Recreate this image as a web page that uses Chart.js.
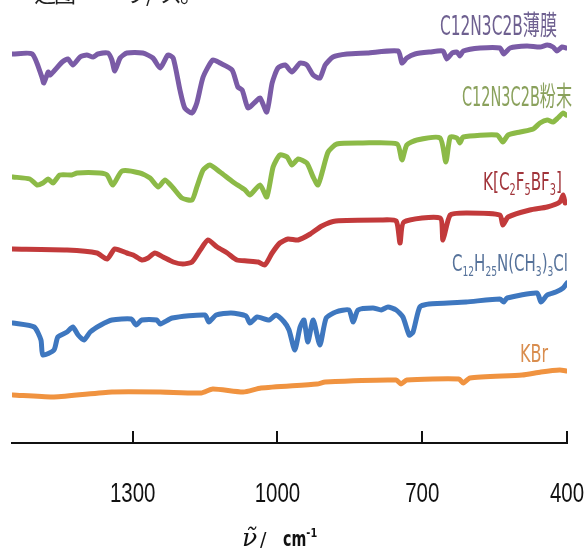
<!DOCTYPE html>
<html>
<head>
<meta charset="utf-8">
<script src="https://cdn.jsdelivr.net/npm/chart.js@4.4.1/dist/chart.umd.min.js"></script>
<style>
  html, body { margin: 0; padding: 0; background: #fff; }
  #wrap { width: 584px; height: 554px; }
</style>
</head>
<body>
<div id="wrap"><canvas id="irChart" width="584" height="554"></canvas></div>
<script>
'use strict';

// wavenumber (cm-1) / offset transmittance (a.u.)
const filmWn = [1548, 1508, 1488, 1484, 1475, 1471, 1461, 1446, 1434, 1424, 1409, 1395, 1382, 1372, 1351, 1343, 1337, 1326, 1312, 1279, 1258, 1243, 1227, 1216, 1202, 1192, 1177, 1167, 1154, 1134, 1119, 1094, 1082, 1073, 1061, 1046, 1036, 1022, 1011, 999, 984, 970, 953, 939, 926, 912, 901, 885, 856, 814, 750, 742, 732, 715, 684, 657, 649, 638, 628, 622, 615, 580, 539, 531, 518, 483, 456, 441, 429, 421, 410, 402];
const filmT  = [389, 389, 366, 360, 371, 368, 373, 381, 384, 378, 386, 388, 386, 389, 390, 383, 372, 385, 390, 390, 385, 375, 388, 385, 353, 335, 330, 340, 366, 383, 380, 373, 356, 353, 335, 341, 345, 331, 360, 375, 378, 371, 380, 378, 368, 365, 378, 386, 389, 390, 392, 380, 385, 389, 391, 392, 384, 390, 391, 387, 392, 395, 395, 389, 395, 397, 396, 398, 396, 392, 396, 395];

const powderWn = [1548, 1513, 1498, 1486, 1475, 1465, 1451, 1426, 1415, 1368, 1353, 1341, 1322, 1285, 1264, 1247, 1233, 1216, 1198, 1177, 1167, 1154, 1140, 1119, 1092, 1067, 1057, 1036, 1022, 1009, 995, 980, 970, 957, 939, 926, 916, 906, 895, 877, 823, 752, 742, 732, 711, 663, 651, 642, 628, 622, 615, 545, 533, 522, 497, 470, 456, 441, 429, 419, 408, 402];
const powderT  = [266, 264, 258, 260, 264, 260, 268, 268, 270, 270, 268, 258, 272, 270, 265, 256, 263, 255, 245, 243, 256, 273, 278, 271, 261, 253, 248, 258, 246, 276, 288, 286, 278, 284, 280, 266, 258, 273, 291, 299, 300, 299, 283, 298, 303, 305, 281, 306, 305, 300, 306, 308, 301, 308, 311, 314, 320, 323, 321, 325, 330, 328];

const saltWn = [1548, 1436, 1374, 1353, 1337, 1312, 1299, 1281, 1268, 1254, 1237, 1216, 1196, 1177, 1160, 1144, 1125, 1104, 1084, 1063, 1040, 1026, 1011, 995, 978, 957, 932, 908, 879, 787, 754, 746, 738, 663, 657, 642, 607, 539, 533, 522, 477, 441, 415, 408, 404];
const saltT  = [194, 193, 190, 184, 194, 190, 188, 183, 185, 190, 186, 181, 179, 181, 193, 203, 196, 190, 183, 182, 181, 178, 190, 200, 204, 203, 209, 217, 222, 223, 222, 200, 221, 225, 203, 228, 230, 228, 218, 226, 233, 236, 241, 248, 240];

const quatWn = [1548, 1504, 1490, 1486, 1463, 1455, 1436, 1424, 1413, 1401, 1388, 1366, 1343, 1303, 1293, 1281, 1250, 1243, 1218, 1150, 1142, 1127, 1096, 1065, 1057, 1042, 1017, 1003, 986, 976, 964, 953, 945, 937, 926, 912, 899, 879, 852, 843, 833, 802, 785, 771, 754, 740, 727, 719, 705, 686, 609, 539, 531, 524, 462, 454, 441, 423, 408, 400];
const quatT  = [120, 116, 103, 88, 93, 106, 111, 116, 108, 103, 111, 118, 123, 124, 118, 123, 123, 119, 125, 128, 121, 128, 130, 127, 120, 126, 123, 128, 121, 113, 93, 116, 123, 101, 123, 98, 125, 131, 133, 121, 133, 135, 133, 136, 133, 126, 108, 111, 136, 139, 141, 144, 141, 145, 150, 141, 148, 151, 155, 160];

const kbrWn = [1548, 1463, 1343, 1243, 1158, 1134, 1071, 1034, 918, 901, 754, 744, 732, 624, 615, 601, 493, 454, 415, 400];
const kbrT  = [48, 46, 51, 51, 50, 54, 51, 55, 59, 61, 63, 59, 63, 64, 60, 65, 68, 71, 73, 72];

const tickValues = [1300, 1000, 700, 400];

const CONDENSED = "'Liberation Sans Narrow', 'DejaVu Sans Condensed', 'Noto Sans CJK SC', sans-serif";

const toPoints = (wn, t) => wn.map((w, i) => ({ x: w, y: t[i] }));

const series = [
  { wn: filmWn,   t: filmT,   color: '#7a5ba6' },
  { wn: powderWn, t: powderT, color: '#8cba47' },
  { wn: saltWn,   t: saltT,   color: '#c23a3b' },
  { wn: quatWn,   t: quatT,   color: '#3e77bf' },
  { wn: kbrWn,    t: kbrT,    color: '#f09340' },
];

// curve names, drawn next to each trace: [text, subscript?]
const curveLabels = [
  { parts: [['C12N3C2B薄膜', 0]], color: '#6e6090', left: 440, right: 557, base: 35, size: 27 },
  { parts: [['C12N3C2B粉末', 0]], color: '#8aa15c', left: 462, right: 572, base: 106, size: 27 },
  { parts: [['K[C', 0], ['2', 1], ['F', 0], ['5', 1], ['BF', 0], ['3', 1], [']', 0]],
    color: '#a1343a', left: 483, right: 562, base: 190, size: 25 },
  { parts: [['C', 0], ['12', 1], ['H', 0], ['25', 1], ['N(CH', 0], ['3', 1], [')', 0], ['3', 1], ['Cl', 0]],
    color: '#56729a', left: 452, right: 568, base: 271, size: 23 },
  { parts: [['KBr', 0]], color: '#d98d4e', left: 520, right: 548, base: 362, size: 24 },
];

// draws text squeezed horizontally by sx, starting at x (left) on baseline y
function squeezed(c, txt, font, x, y, sx) {
  c.save();
  c.font = font;
  c.translate(x, y);
  c.scale(sx, 1);
  c.fillText(txt, 0, 0);
  const w = c.measureText(txt).width * sx;
  c.restore();
  return w;
}

const labelPlugin = {
  id: 'curveLabels',
  afterDraw(chart) {
    const c = chart.ctx;
    c.save();
    c.textBaseline = 'alphabetic';
    c.textAlign = 'left';

    curveLabels.forEach((lab) => {
      const subSize = Math.round(lab.size * 0.62);
      let w = 0;
      lab.parts.forEach(([txt, sub]) => {
        c.font = `${sub ? subSize : lab.size}px ${CONDENSED}`;
        w += c.measureText(txt).width;
      });
      const sx = (lab.right - lab.left) / w;
      c.fillStyle = lab.color;
      let x = lab.left;
      lab.parts.forEach(([txt, sub]) => {
        x += squeezed(c, txt, `${sub ? subSize : lab.size}px ${CONDENSED}`, x, lab.base + (sub ? 5 : 0), sx);
      });
    });

    // tick labels, taken from the x scale
    const xs = chart.scales.x;
    const tickFont = "28px 'Liberation Sans', sans-serif";
    c.fillStyle = '#111';
    xs.ticks.forEach((t) => {
      const px = xs.getPixelForValue(t.value);
      const label = String(t.value);
      c.font = tickFont;
      const w = c.measureText(label).width * 0.73;
      squeezed(c, label, tickFont, px - w / 2, 502, 0.73);
    });

    // leftover of the caption line above the figure
    c.fillStyle = '#222';
    c.font = "22px 'Noto Sans CJK SC', sans-serif";
    const capChars = ['之', '图', '一', 'フ', '/', 'ス', '。'];
    const capX = [34, 54, 100, 126, 146, 160, 180];
    capChars.forEach((ch, i) => c.fillText(ch, capX[i], 2));

    // axis title: nu-tilde / cm^-1
    c.fillStyle = '#111';
    c.font = "italic 25px 'DejaVu Serif', serif";
    c.fillText('ν̃', 242, 546);
    c.font = "19px 'DejaVu Sans', sans-serif";
    c.fillText('/', 260, 546);
    let x = 283;
    x += squeezed(c, 'cm', "bold 21px 'DejaVu Sans', sans-serif", x, 546, 0.68);
    squeezed(c, '-1', "bold 13px 'DejaVu Sans', sans-serif", x, 537, 0.75);
    c.restore();
  },
};

const ctx = document.getElementById('irChart').getContext('2d');

new Chart(ctx, {
  type: 'line',
  data: {
    datasets: series.map((s) => ({
      data: toPoints(s.wn, s.t),
      borderColor: s.color,
      backgroundColor: s.color,
    })),
  },
  options: {
    responsive: false,
    animation: false,
    devicePixelRatio: 1,
    layout: { padding: { left: 12, top: 0, right: 17, bottom: 0 } },
    plugins: {
      legend: { display: false },
      tooltip: { enabled: false },
    },
    elements: {
      point: { radius: 0 },
      line: { borderWidth: 5, tension: 0.2, borderCapStyle: 'round', borderJoinStyle: 'round' },
    },
    scales: {
      x: {
        type: 'linear',
        reverse: true,
        min: 400,
        max: 1550,
        afterBuildTicks: (scale) => { scale.ticks = tickValues.map((v) => ({ value: v })); },
        afterFit: (scale) => { scale.height = 111; },
        border: { display: true, color: '#111', width: 2 },
        grid: { drawOnChartArea: false, drawTicks: true, tickLength: -12, color: '#111', lineWidth: 2 },
        ticks: { display: false },
      },
      y: { display: false, min: 0, max: 443 },
    },
  },
  plugins: [labelPlugin],
});
</script>
</body>
</html>
